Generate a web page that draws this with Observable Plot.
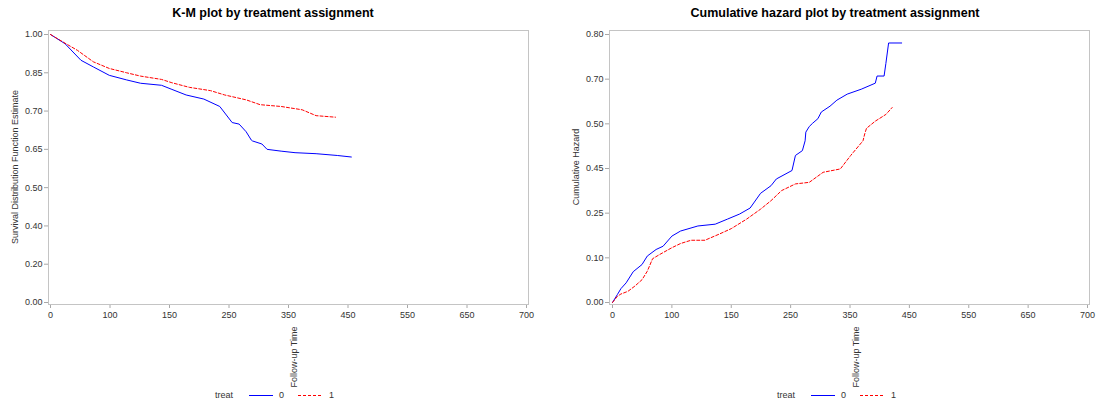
<!DOCTYPE html>
<html><head><meta charset="utf-8">
<script src="https://cdn.jsdelivr.net/npm/d3@7"></script>
<script src="https://cdn.jsdelivr.net/npm/@observablehq/plot@0.6"></script>
<style>
html,body{margin:0;padding:0;background:#fff;}
body{width:1097px;height:404px;position:relative;overflow:hidden;font-family:"Liberation Sans",Arial,sans-serif;}
.panel{position:absolute;top:0;}
.panel svg{color:#a8a8a8;}
.panel svg text{fill:#333;}
.title{position:absolute;top:6px;font-weight:bold;font-size:12.5px;color:#000;transform:translateX(-50%);white-space:nowrap;}
.vlab{position:absolute;font-size:9px;color:#333;white-space:nowrap;transform:translate(-50%,-50%) rotate(-90deg);}
.leg{position:absolute;top:389px;height:12px;font-size:9px;color:#333;}
.leg span{position:absolute;top:0;line-height:12px;white-space:nowrap;}
.leg svg{position:absolute;top:0;overflow:visible;}
</style></head>
<body>
<script>
// ---- data ----
const xTickLabels = [0, 100, 150, 250, 350, 450, 550, 650, 700];
const kmTickLabels = [0.00, 0.20, 0.40, 0.50, 0.65, 0.70, 0.85, 1.00];
const chTickLabels = [0.00, 0.10, 0.25, 0.45, 0.50, 0.70, 0.80];
const treatLevels = ["0", "1"];

// K-M survival, treat = 0
const kmTime0 = [0, 24.4, 51.2, 72, 98.8, 114, 125.7, 143.3, 154, 178, 207.7, 234.5, 255.3, 267, 278.8, 287.6, 289.4, 305.3, 314, 337.6, 361, 396.4, 432, 455.6];
const kmSurv0 = [1.00, 0.964, 0.899, 0.873, 0.840, 0.822, 0.809, 0.801, 0.785, 0.763, 0.747, 0.718, 0.685, 0.683, 0.673, 0.662, 0.661, 0.657, 0.650, 0.643, 0.637, 0.633, 0.626, 0.620];
// K-M survival, treat = 1
const kmTime1 = [0, 24.4, 45.2, 72, 98.8, 114, 125.7, 143.3, 154, 183.3, 219, 242.9, 278.8, 302.4, 337.6, 373, 396.4, 429];
const kmSurv1 = [1.00, 0.966, 0.938, 0.893, 0.867, 0.850, 0.837, 0.824, 0.811, 0.793, 0.780, 0.763, 0.744, 0.725, 0.718, 0.705, 0.694, 0.692];

// Cumulative hazard, treat = 0
const chTime0 = [0, 8.3, 14.2, 23, 34.9, 49.7, 58.6, 73.4, 85.2, 100, 107.3, 121.9, 136.5, 146.8, 164, 181.8, 199.4, 217, 225.9, 252.3, 258.1, 269.8, 274.4, 275.6, 281.4, 287.2, 295.9, 301.7, 316.3, 327.9, 345.3, 368.9, 392.6, 395.6, 407.4, 410.4, 415, 437];
const chHaz0 = [0, 0.018, 0.031, 0.044, 0.069, 0.085, 0.106, 0.128, 0.139, 0.173, 0.190, 0.207, 0.213, 0.230, 0.247, 0.273, 0.339, 0.373, 0.403, 0.441, 0.4646, 0.470, 0.481, 0.4907, 0.497, 0.503, 0.523, 0.553, 0.579, 0.606, 0.633, 0.655, 0.682, 0.707, 0.707, 0.735, 0.781, 0.781];
// Cumulative hazard, treat = 1
const chTime1 = [0, 8.3, 14.2, 26, 37.9, 49.7, 58.6, 67.5, 79.3, 100, 107.3, 116.1, 127.8, 139.5, 150, 175.9, 199.4, 217, 234.7, 258.1, 281.4, 304.7, 333.7, 351.2, 371.9, 374.9, 377.8, 392.6, 410.4, 421];
const chHaz1 = [0, 0.014, 0.019, 0.025, 0.037, 0.051, 0.070, 0.098, 0.111, 0.134, 0.148, 0.159, 0.159, 0.179, 0.198, 0.230, 0.268, 0.306, 0.351, 0.381, 0.388, 0.433, 0.448, 0.4646, 0.481, 0.489, 0.495, 0.512, 0.542, 0.573];

const colors = {"0": "#0000ff", "1": "#ff0000"};
const dashes = {"0": null, "1": "3,2"};

function rows(t, v, g) { return t.map((d, i) => ({time: d, value: v[i], treat: g})); }

function panel({left, marginLeft, marginRight, insetLeft, insetRight, yTicks, series}) {
  const marks = [Plot.frame({stroke: "#c4c4c4"})];
  for (const s of series) {
    const g = s[0].treat;
    const opts = {x: "time", y: "value", stroke: colors[g], strokeWidth: 1, curve: "linear"};
    if (dashes[g]) opts.strokeDasharray = dashes[g];
    marks.push(Plot.line(s, opts));
  }
  const svg = Plot.plot({
    width: 548, height: 404,
    marginTop: 30, marginBottom: 100, marginLeft, marginRight,
    style: {fontSize: "9px", fontFamily: "'Liberation Sans', Arial, sans-serif", background: "transparent", overflow: "visible"},
    x: {type: "linear", domain: xTickLabels, ticks: xTickLabels, tickFormat: d => String(d), insetLeft, insetRight, tickSize: 4, tickPadding: 3, label: null},
    y: {type: "linear", domain: yTicks, ticks: yTicks, tickFormat: d => d.toFixed(2), insetTop: 4, insetBottom: 2, tickSize: 4, tickPadding: 2, label: null},
    marks
  });
  const div = document.createElement("div");
  div.className = "panel";
  div.style.left = left + "px";
  div.appendChild(svg);
  document.body.appendChild(div);
}

panel({left: 0, marginLeft: 48, marginRight: 20, insetLeft: 2, insetRight: 2, yTicks: kmTickLabels,
  series: [rows(kmTime0, kmSurv0, "0"), rows(kmTime1, kmSurv1, "1")]});
panel({left: 549, marginLeft: 60, marginRight: 8, insetLeft: 3, insetRight: 2, yTicks: chTickLabels,
  series: [rows(chTime0, chHaz0, "0"), rows(chTime1, chHaz1, "1")]});

function addDiv(cls, text, css) {
  const d = document.createElement("div");
  d.className = cls; d.textContent = text;
  Object.assign(d.style, css);
  document.body.appendChild(d);
  return d;
}
addDiv("title", "K-M plot by treatment assignment", {left: "273px"});
addDiv("title", "Cumulative hazard plot by treatment assignment", {left: "835px"});
addDiv("vlab", "Survival Distribution Function Estimate", {left: "15px", top: "167px"});
addDiv("vlab", "Cumulative Hazard", {left: "576px", top: "167px"});
addDiv("vlab", "Follow-up Time", {left: "294px", top: "357px"});
addDiv("vlab", "Follow-up Time", {left: "856px", top: "357px"});

function legend(x0) {
  const ns = "http://www.w3.org/2000/svg";
  const d = document.createElement("div");
  d.className = "leg"; d.style.left = x0 + "px";
  const t = document.createElement("span"); t.textContent = "treat"; t.style.left = "0px"; d.appendChild(t);
  const pos = [{line: 34, label: 64}, {line: 83, label: 114}];
  treatLevels.forEach((lv, i) => {
    const s = document.createElementNS(ns, "svg");
    s.setAttribute("width", "25"); s.setAttribute("height", "12");
    s.style.left = pos[i].line + "px";
    const l = document.createElementNS(ns, "line");
    l.setAttribute("x1", "0"); l.setAttribute("x2", "24");
    l.setAttribute("y1", "6.5"); l.setAttribute("y2", "6.5");
    l.style.stroke = colors[lv];
    l.style.strokeWidth = "1";
    if (dashes[lv]) l.style.strokeDasharray = dashes[lv];
    s.appendChild(l);
    d.appendChild(s);
    const sp = document.createElement("span"); sp.textContent = lv; sp.style.left = pos[i].label + "px"; d.appendChild(sp);
  });
  document.body.appendChild(d);
}
legend(215);
legend(777);
</script>
</body></html>
